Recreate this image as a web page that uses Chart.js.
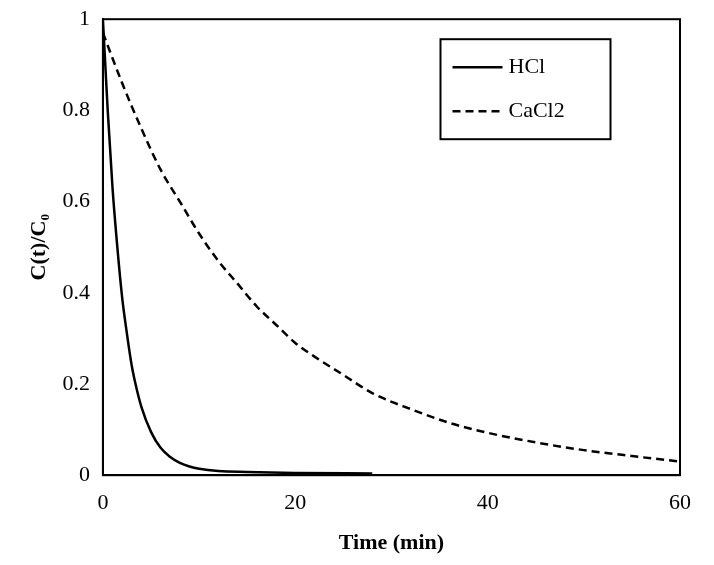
<!DOCTYPE html>
<html>
<head>
<script src="https://cdn.jsdelivr.net/npm/chart.js@4"></script>
<style>
body { margin: 0; background: #fff; }
#wrap { width: 714px; height: 565px; }
</style>
</head>
<body>
<div id="wrap"><canvas id="c"></canvas></div>
<script>
const hclTime = [0, 0.5, 1, 1.5, 2, 2.5, 3, 3.5, 4, 5, 6, 7, 8, 9, 10, 12, 15, 20, 28];
const hclValues = [1, 0.80, 0.63, 0.50, 0.39, 0.31, 0.24, 0.19, 0.15, 0.095, 0.06, 0.04, 0.027, 0.019, 0.014, 0.009, 0.007, 0.005, 0.004];
const cacl2Time = [0, 2, 4, 6, 8, 10, 12, 14, 16, 18, 20, 22, 25, 28, 32, 36, 40, 45, 50, 55, 60];
const cacl2Values = [0.97, 0.86, 0.76, 0.67, 0.60, 0.53, 0.47, 0.42, 0.37, 0.33, 0.29, 0.26, 0.22, 0.18, 0.145, 0.115, 0.093, 0.072, 0.055, 0.042, 0.03];
const xTicks = [0, 20, 40, 60];
const yTicks = [0, 0.2, 0.4, 0.6, 0.8, 1];

const pts = (xs, ys) => xs.map((x, i) => ({ x: x, y: ys[i] }));
const serif = 'Liberation Serif';

const boxLegend = {
  id: 'boxLegend',
  afterDraw(chart) {
    const ctx = chart.ctx;
    const a = chart.chartArea;
    const left = a.left + (a.right - a.left) * 0.585;
    const top = a.top + 20;
    const w = 170, h = 100;
    ctx.save();
    ctx.fillStyle = '#fff';
    ctx.fillRect(left, top, w, h);
    ctx.strokeStyle = '#000';
    ctx.lineWidth = 2;
    ctx.strokeRect(left, top, w, h);
    ctx.font = '22px ' + serif;
    ctx.fillStyle = '#000';
    ctx.textBaseline = 'middle';
    chart.data.datasets.forEach((ds, i) => {
      const y = top + 28 + i * 44;
      ctx.beginPath();
      ctx.setLineDash(ds.borderDash || []);
      ctx.lineWidth = 2.5;
      ctx.moveTo(left + 12, y);
      ctx.lineTo(left + 62, y);
      ctx.stroke();
      ctx.setLineDash([]);
      ctx.fillText(ds.label, left + 68, y);
    });
    ctx.restore();
  }
};

new Chart(document.getElementById('c'), {
  type: 'scatter',
  data: {
    datasets: [
      { label: 'HCl', data: pts(hclTime, hclValues), showLine: true, borderColor: '#000', borderWidth: 2.5, pointRadius: 0, cubicInterpolationMode: 'monotone' },
      { label: 'CaCl2', data: pts(cacl2Time, cacl2Values), showLine: true, borderColor: '#000', borderWidth: 2.5, borderDash: [8, 5], pointRadius: 0, cubicInterpolationMode: 'monotone' }
    ]
  },
  options: {
    responsive: true,
    maintainAspectRatio: false,
    animation: false,
    layout: { padding: { top: 18, right: 34, left: 22, bottom: 4 } },
    plugins: { legend: { display: false }, tooltip: { enabled: false } },
    scales: {
      x: {
        type: 'linear', min: 0, max: 60,
        afterBuildTicks: s => { s.ticks = xTicks.map(v => ({ value: v })); },
        grid: { display: false, drawTicks: true, tickLength: 7, tickColor: '#000' },
        border: { color: '#000', width: 2 },
        ticks: { color: '#000', font: { family: serif, size: 22 }, padding: 8 },
        title: { display: true, text: 'Time (min)', color: '#000', font: { family: serif, size: 22, weight: 'bold' }, padding: { top: 6 } }
      },
      y: {
        min: 0, max: 1,
        afterBuildTicks: s => { s.ticks = yTicks.map(v => ({ value: v })); },
        grid: { display: false, drawTicks: true, tickLength: 7, tickColor: '#000' },
        border: { color: '#000', width: 2 },
        ticks: { color: '#000', font: { family: serif, size: 22 }, padding: 6, callback: v => String(v) },
        title: { display: true, text: 'C(t)/C₀', color: '#000', font: { family: serif, size: 22, weight: 'bold' } }
      }
    }
  },
  plugins: [boxLegend, {
    id: 'frame',
    afterDraw(chart) {
      const a = chart.chartArea, ctx = chart.ctx;
      ctx.save();
      ctx.strokeStyle = '#000';
      ctx.lineWidth = 2;
      ctx.strokeRect(a.left, a.top, a.right - a.left, a.bottom - a.top);
      ctx.restore();
    }
  }]
});
</script>
</body>
</html>
